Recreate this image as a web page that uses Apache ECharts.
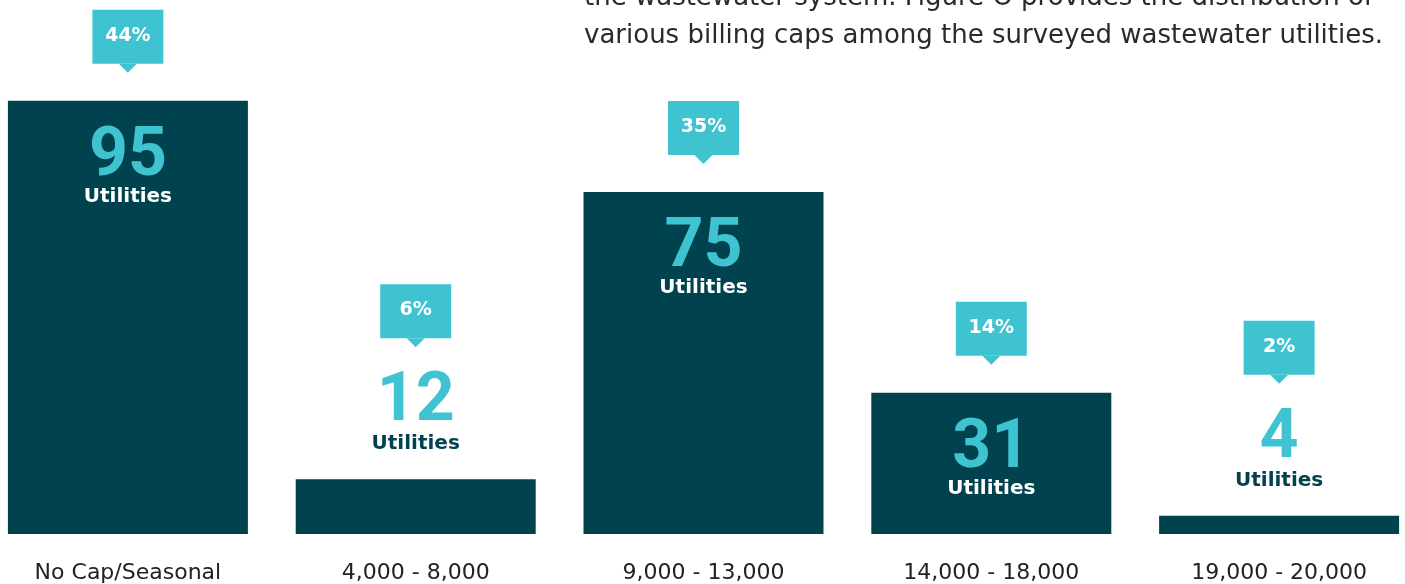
<!DOCTYPE html>
<html>
<head>
<meta charset="utf-8">
<script src="https://cdn.jsdelivr.net/npm/echarts@6/dist/echarts.min.js"></script>
<style>
  html, body { margin: 0; padding: 0; background: #fff; overflow: hidden; }
  /* bands are wider than the page, so the chart box sticks out a bit on both sides */
  #chart { position: absolute; left: -16px; top: 0; width: 1439px; height: 584px; }
</style>
</head>
<body>
<div id="chart"></div>
<script>
// billing cap ranges (gallons)
var categories = ['No Cap/Seasonal', '4,000 - 8,000', '9,000 - 13,000', '14,000 - 18,000', '19,000 - 20,000'];
var utilities = [95, 12, 75, 31, 4];
var percents = [44, 6, 35, 14, 2];
var introLines = [
    'the wastewater system. Figure O provides the distribution of',
    'various billing caps among the surveyed wastewater utilities.'
];

var DARK = '#00434f';
var TEAL = '#40c3d1';

var chartDom = document.getElementById('chart');
var myChart = echarts.init(chartDom);

// callouts + big numbers, placed from the bar top
function renderLabels(params, api) {
    var val = api.value(1);
    var pt = api.coord([api.value(0), val]);
    var cx = pt[0], top = pt[1];
    var small = val < 20;
    var boxTop = top + (small ? -195 : -91);
    var numY = top + (small ? -76 : 57);
    var utilY = top + (small ? -35 : 96);
    return {
        type: 'group',
        children: [
            {
                type: 'rect',
                shape: { x: cx - 35.5, y: boxTop, width: 71, height: 54 },
                style: { fill: TEAL }
            },
            {
                type: 'polygon',
                shape: { points: [[cx - 9, boxTop + 54], [cx + 9, boxTop + 54], [cx, boxTop + 63]] },
                style: { fill: TEAL }
            },
            {
                type: 'text',
                x: cx, y: boxTop + 26,
                style: {
                    text: api.value(2) + '%', fill: '#fff',
                    font: 'bold 19px "DejaVu Sans"',
                    align: 'center', verticalAlign: 'middle'
                }
            },
            {
                type: 'text',
                x: cx, y: numY,
                style: {
                    text: String(val), fill: TEAL,
                    font: 'bold 68px Roboto',
                    align: 'center', verticalAlign: 'middle'
                }
            },
            {
                type: 'text',
                x: cx, y: utilY,
                style: {
                    text: 'Utilities', fill: small ? DARK : '#fff',
                    font: 'bold 20px "DejaVu Sans"',
                    align: 'center', verticalAlign: 'middle'
                }
            }
        ]
    };
}

var option = {
    animation: false,
    grid: { left: 0, right: 0, top: 78, bottom: 45 },
    xAxis: {
        type: 'category',
        data: categories,
        axisLine: { show: false },
        axisTick: { show: false },
        axisLabel: {
            color: '#222',
            fontSize: 22,
            fontFamily: 'DejaVu Sans',
            margin: 28
        }
    },
    yAxis: {
        type: 'value',
        min: 0,
        max: 100,
        show: false
    },
    graphic: [
        {
            type: 'text', x: 600, y: -2,
            style: { text: introLines[0], fill: '#2a2a2a', font: '26px "DejaVu Sans"', verticalAlign: 'middle' }
        },
        {
            type: 'text', x: 600, y: 36,
            style: { text: introLines[1], fill: '#2a2a2a', font: '26px "DejaVu Sans"', verticalAlign: 'middle' }
        }
    ],
    series: [
        {
            type: 'bar',
            data: utilities,
            barWidth: 240,
            itemStyle: { color: DARK },
            silent: true
        },
        {
            type: 'custom',
            data: utilities.map(function (v, i) { return [i, v, percents[i]]; }),
            encode: { x: 0, y: 1 },
            renderItem: renderLabels,
            clip: false,
            silent: true,
            z: 5
        }
    ]
};
myChart.setOption(option);
</script>
</body>
</html>
